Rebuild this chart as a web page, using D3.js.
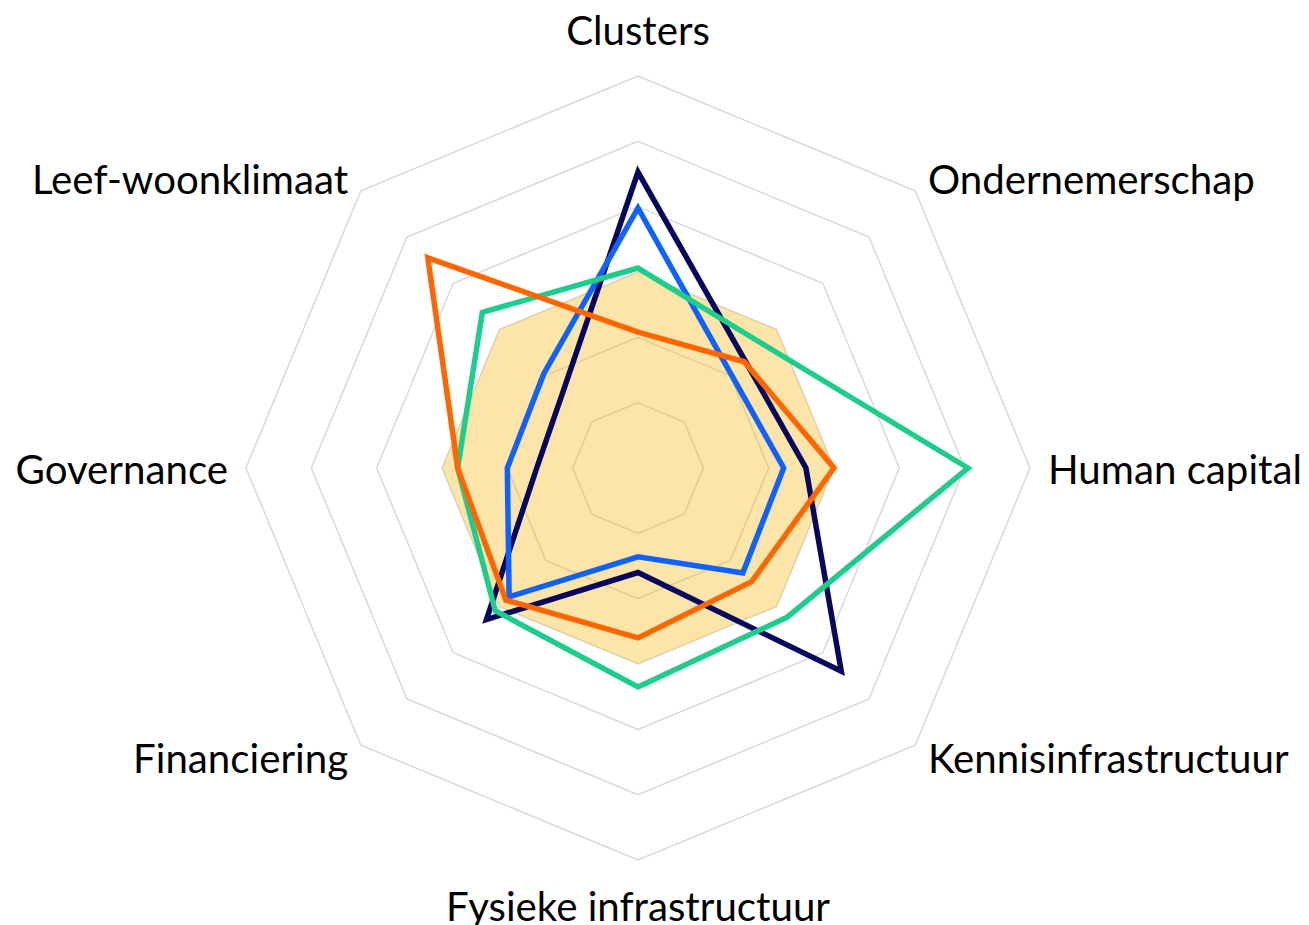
<!DOCTYPE html>
<html>
<head>
<meta charset="utf-8">
<script src="https://cdn.jsdelivr.net/npm/d3@7"></script>
<style>
  html, body { margin: 0; padding: 0; background: #ffffff; }
  svg { display: block; }
</style>
</head>
<body>
<svg id="chart" width="1309" height="925"></svg>
<script>
const axes = ["Clusters", "Ondernemerschap", "Human capital", "Kennisinfrastructuur",
              "Fysieke infrastructuur", "Financiering", "Governance", "Leef-woonklimaat"];
const ringLevels = [1, 2, 3, 4, 5, 6];
const benchmark = [3, 3, 3, 3, 3, 3, 3, 3];
const seriesNavy   = [4.53, 2.32, 2.57, 4.40, 1.60, 3.28, 1.55, 1.63];
const seriesBlue   = [3.98, 2.02, 2.23, 2.27, 1.36, 2.79, 2.00, 2.04];
const seriesGreen  = [3.06, 2.69, 5.05, 3.23, 3.35, 3.09, 2.76, 3.37];
const seriesOrange = [2.08, 2.30, 3.00, 2.46, 2.60, 2.86, 2.76, 4.55];

const svg = d3.select("#chart");
const cx = 638, cy = 468;
const rMax = 392;
const r = d3.scaleLinear().domain([0, 6]).range([0, rMax]);
const angle = d3.scalePoint().domain(axes).range([0, 2 * Math.PI * (axes.length - 1) / axes.length]);

const g = svg.append("g").attr("transform", `translate(${cx},${cy})`);
const radial = d3.lineRadial()
  .angle((d, i) => angle(axes[i]))
  .radius(d => r(d))
  .curve(d3.curveLinearClosed);

// grid rings
g.append("g").selectAll("path")
  .data(ringLevels)
  .join("path")
  .attr("d", lv => radial(axes.map(() => lv)))
  .attr("fill", "none")
  .attr("stroke", "#d9d9d9")
  .attr("stroke-width", 1.5);

// benchmark area
g.append("path")
  .attr("d", radial(benchmark))
  .attr("fill", "#f9b000")
  .attr("fill-opacity", 0.34)
  .attr("stroke", "none");

const lines = [
  { values: seriesNavy, color: "#07075e" },
  { values: seriesBlue, color: "#0f62fe" },
  { values: seriesGreen, color: "#1ccd8c" },
  { values: seriesOrange, color: "#ff6600" }
];
g.append("g").selectAll("path")
  .data(lines)
  .join("path")
  .attr("d", d => radial(d.values))
  .attr("fill", "none")
  .attr("stroke", d => d.color)
  .attr("stroke-width", 5.5)
  .attr("stroke-linejoin", "miter");

// labels
const labelR = 410;
const labels = g.append("g").selectAll("text")
  .data(axes)
  .join("text")
  .text(d => d)
  .attr("font-family", "Lato, 'Open Sans', sans-serif")
  .attr("font-size", 40)
  .attr("fill", "#000");

// fit font size to match Calibri metrics (Human capital ~254px wide)
const ref = labels.filter(d => d === "Human capital").node();
const fs = 40 * 254 / ref.getComputedTextLength();
labels.attr("font-size", fs);

labels.each(function (d) {
  const a = angle(d);
  const x = labelR * Math.sin(a);
  const y = -labelR * Math.cos(a);
  const sx = Math.abs(x) < 1 ? 0 : Math.sign(x);
  const sy = Math.abs(y) < 1 ? 0 : Math.sign(y);
  d3.select(this)
    .attr("x", x)
    .attr("y", y + (sx === 0 ? sy * 27 : 0) - (sx === 0 && sy < 0 ? 2 : 0))
    .attr("dominant-baseline", "central")
    .attr("text-anchor", sx === 0 ? "middle" : (sx > 0 ? "start" : "end"));
});
</script>
</body>
</html>
